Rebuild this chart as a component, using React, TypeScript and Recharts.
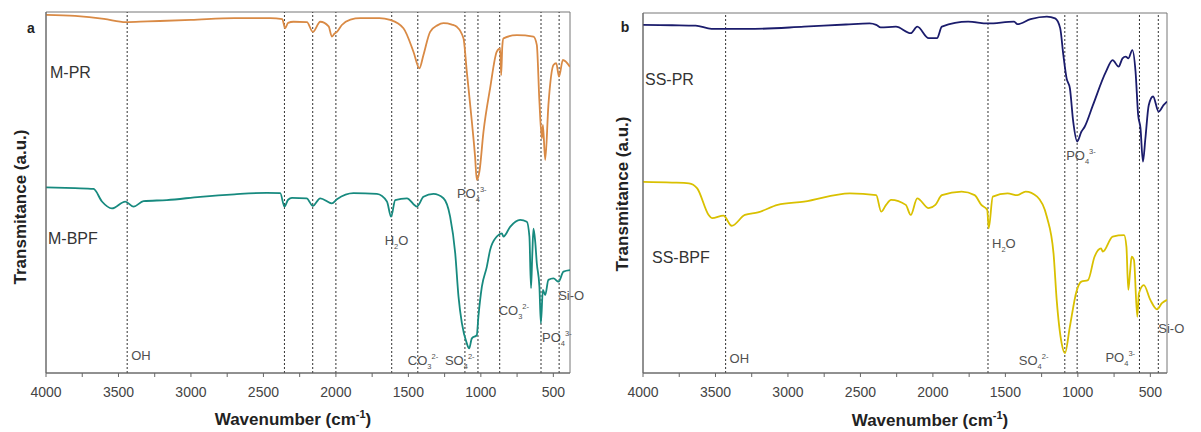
import { LineChart, Line, XAxis, YAxis, ReferenceLine, ReferenceArea } from "recharts";

// wavenumber axis
const WN_TICKS = [4000, 3750, 3500, 3250, 3000, 2750, 2500, 2250, 2000, 1750, 1500, 1250, 1000, 750, 500];
const WN_DOMAIN: [number, number] = [385, 4000];

// spectra: [wavenumber cm-1, transmittance a.u.]
const mPR: [number, number][] = [
  [4000, 99.2], [3800, 98.9], [3600, 98.1], [3450, 97.2], [3300, 97.4], [3000, 97.8], [2700, 98.3],
  [2453, 98.3], [2370, 98.0], [2350, 95.5], [2330, 97.0], [2293, 97.3], [2200, 97.2], [2159, 94.5],
  [2108, 97.3], [2050, 96.0], [2028, 93.2], [2010, 94.0], [1993, 94.5], [1959, 96.4], [1900, 97.9],
  [1832, 98.3], [1700, 98.3], [1626, 97.8], [1534, 95.5], [1465, 89.0], [1424, 84.4], [1396, 88.1],
  [1350, 94.5], [1300, 96.3], [1258, 96.9], [1200, 96.5], [1166, 95.9], [1120, 92.7], [1097, 83.5],
  [1062, 69.6], [1040, 60.0], [1028, 53.5], [1010, 55.8], [982, 66.8], [936, 78.9], [890, 89.0],
  [867, 89.9], [860, 82.5], [852, 90.5], [844, 92.7], [752, 93.6], [637, 93.2], [614, 90.9],
  [596, 75.2], [579, 65.0], [572, 68.7], [556, 59.0], [534, 74.2], [499, 85.3], [480, 85.8],
  [461, 82.1], [434, 86.7], [385, 84.8],
];

const mBPF: [number, number][] = [
  [4000, 51.4], [3800, 51.2], [3672, 51.0], [3614, 47.5], [3545, 45.6], [3453, 47.5], [3396, 46.1],
  [3327, 47.6], [3166, 47.9], [2936, 48.8], [2700, 49.5], [2476, 49.9], [2384, 49.8], [2355, 46.1],
  [2330, 48.0], [2303, 48.5], [2202, 48.4], [2159, 46.3], [2108, 48.4], [2028, 47.0], [1993, 48.1],
  [1879, 49.8], [1717, 49.6], [1648, 47.5], [1619, 43.3], [1591, 47.9], [1510, 48.4], [1441, 46.1],
  [1396, 48.8], [1327, 49.6], [1258, 48.4], [1212, 43.3], [1177, 33.2], [1154, 21.1], [1131, 13.8],
  [1097, 8.2], [1081, 6.8], [1062, 9.6], [1028, 10.5], [1017, 15.6], [993, 23.9], [959, 29.4],
  [936, 34.1], [890, 37.8], [855, 38.7], [844, 37.8], [798, 40.5], [729, 42.4], [683, 41.9],
  [665, 37.8], [654, 23.5], [645, 33.0], [637, 40.0], [625, 36.4], [614, 30.4], [596, 23.9],
  [586, 13.8], [572, 23.0], [556, 21.6], [534, 25.8], [499, 26.2], [464, 25.3], [430, 28.1], [385, 28.5],
];

const ssPR: [number, number][] = [
  [4000, 96.7], [3800, 96.6], [3637, 96.5], [3527, 95.6], [3433, 95.6], [3229, 95.6], [2889, 96.2],
  [2600, 96.8], [2437, 97.1], [2391, 96.7], [2360, 96.0], [2255, 96.2], [2153, 94.4], [2108, 96.2],
  [2029, 93.0], [1972, 93.0], [1938, 96.2], [1757, 97.6], [1621, 97.1], [1440, 97.6], [1417, 96.9],
  [1326, 98.3], [1214, 99.0], [1157, 98.5], [1122, 95.8], [1100, 88.3], [1078, 81.9], [1055, 79.1],
  [1032, 69.8], [1005, 64.3], [976, 67.0], [953, 68.4], [896, 74.4], [806, 83.7], [760, 86.9],
  [719, 85.1], [692, 87.4], [670, 87.9], [652, 87.4], [624, 89.7], [602, 83.7], [584, 71.7],
  [568, 68.0], [551, 58.7], [534, 65.2], [511, 74.4], [481, 76.8], [443, 72.6], [409, 74.4], [385, 75.4],
];

const ssBPF: [number, number][] = [
  [4000, 53.1], [3800, 52.9], [3683, 52.7], [3626, 51.3], [3547, 43.9], [3524, 43.0], [3445, 43.7],
  [3388, 40.9], [3297, 43.9], [3207, 44.6], [3071, 46.7], [2889, 47.6], [2573, 49.9], [2391, 49.4],
  [2357, 44.8], [2323, 46.7], [2289, 48.1], [2187, 46.7], [2153, 43.9], [2108, 48.5], [2029, 45.8],
  [1983, 46.7], [1938, 49.4], [1802, 50.4], [1712, 49.4], [1666, 46.7], [1625, 45.3], [1615, 40.2],
  [1587, 49.0], [1485, 49.9], [1417, 49.4], [1360, 50.4], [1281, 49.0], [1214, 43.4], [1168, 33.3],
  [1146, 20.3], [1112, 8.3], [1089, 5.5], [1055, 12.9], [1010, 22.6], [976, 25.4], [930, 25.8],
  [885, 32.3], [840, 34.6], [828, 33.7], [760, 37.9], [681, 38.3], [665, 35.1], [652, 23.1],
  [640, 28.0], [629, 32.3], [613, 31.4], [590, 15.6], [579, 22.1], [545, 24.4], [500, 20.3],
  [454, 17.7], [420, 19.4], [385, 20.3],
];

// band markers: wavenumber + label ("_x" subscript, "^x" superscript)
const A_MARKS: [number, string][] = [
  [3440, "OH"], [2355, ""], [2160, ""], [2000, ""], [1615, "H_2O"], [1435, "CO_3^2-"],
  [1110, "SO_4^2-"], [1020, "PO_4^3-"], [870, "CO_3^2-"], [585, "PO_4^3-"], [460, "Si-O"],
];
const B_MARKS: [number, string][] = [
  [3430, "OH"], [1620, "H_2O"], [1090, "SO_4^2-"], [1005, "PO_4^3-"], [575, "PO_4^3-"], [445, "Si-O"],
];
// label placement: [dx from line, centre y]
const A_PLACE: [number, number][] = [
  [4, 355], [0, 0], [0, 0], [0, 0], [-7, 240], [-10, 360], [-20, 360], [-21, 193], [-1, 310], [1, 337], [-1, 295],
];
const B_PLACE: [number, number][] = [
  [4, 358], [4, 243], [-46, 360], [-11, 155], [-34, 357], [0, 328],
];

const FONT = "'Liberation Sans', Arial, sans-serif";
const toRows = (s: [number, number][]) => s.map(([wn, t]) => ({ wn, t }));

function parseChem(s: string) {
  const parts: { t: string; k: "n" | "sub" | "sup" }[] = [];
  const re = /_([0-9]+)|\^([0-9+-]+)|([^_^]+)/g;
  let m: RegExpExecArray | null;
  while ((m = re.exec(s))) {
    if (m[1]) parts.push({ t: m[1], k: "sub" });
    else if (m[2]) parts.push({ t: m[2], k: "sup" });
    else parts.push({ t: m[3], k: "n" });
  }
  return parts;
}

function ChemText({ x, y, text }: { x: number; y: number; text: string }) {
  const offs = { n: 0, sub: 4, sup: -6 };
  let cur = 0;
  return (
    <text x={x} y={y + 4.5} fontSize={13} fill="#505050" fontFamily={FONT}>
      {parseChem(text).map((p, i) => {
        const dy = offs[p.k] - cur;
        cur = offs[p.k];
        return (
          <tspan key={i} dy={dy} fontSize={p.k === "n" ? 13 : 7.5}>
            {p.t}
          </tspan>
        );
      })}
    </text>
  );
}

function Panel({
  series,
  colors,
  marks,
  place,
  top,
}: {
  series: [number, number][][];
  colors: string[];
  marks: [number, string][];
  place: [number, number][];
  top: number;
}) {
  return (
    <LineChart
      width={590}
      height={432}
      margin={{ top, right: 20, bottom: 0, left: 8 }}
      style={{ fontFamily: FONT }}
    >
      <XAxis
        type="number"
        dataKey="wn"
        domain={WN_DOMAIN}
        reversed
        allowDataOverflow
        ticks={WN_TICKS}
        tickFormatter={(v: number) => (v % 500 === 0 ? String(v) : "")}
        height={432 - 373}
        tickSize={4}
        tickMargin={10}
        stroke="#666"
        tick={{ fontSize: 14, fill: "#444" }}
      />
      <YAxis type="number" domain={[0, 100]} width={38} tick={false} tickLine={false} stroke="#666" />
      <ReferenceArea x1={4000} x2={385} y1={0} y2={100} fill="none" stroke="#777" strokeWidth={1} />
      {marks.map(([wn, label], i) => (
        <ReferenceLine
          key={`m-${wn}`}
          x={wn}
          stroke="#333"
          strokeWidth={1}
          strokeDasharray="2 2"
          label={(p: any) => {
            if (!label) return null;
            const vx = p?.viewBox?.x ?? p?.x ?? 0;
            return <ChemText x={vx + place[i][0]} y={place[i][1]} text={label} />;
          }}
        />
      ))}
      {series.map((s, i) => (
        <Line
          key={i}
          data={toRows(s)}
          dataKey="t"
          type="monotone"
          stroke={colors[i]}
          strokeWidth={1.8}
          dot={false}
          isAnimationActive={false}
        />
      ))}
    </LineChart>
  );
}

export default function App() {
  const title = { fontSize: 17, fontWeight: 700, fill: "#222", fontFamily: FONT };
  const name = { fontSize: 16, fill: "#333", fontFamily: FONT };
  return (
    <div style={{ position: "absolute", left: 0, top: 0, width: 1201, height: 432, background: "#fff" }}>
      <div style={{ position: "absolute", left: 0, top: 0 }}>
        <Panel series={[mPR, mBPF]} colors={["#d98a45", "#178a7f"]} marks={A_MARKS} place={A_PLACE} top={12} />
      </div>
      <div style={{ position: "absolute", left: 597, top: 0 }}>
        <Panel series={[ssPR, ssBPF]} colors={["#1b1c6c", "#d9c000"]} marks={B_MARKS} place={B_PLACE} top={13} />
      </div>
      <svg
        width={1201}
        height={432}
        style={{ position: "absolute", left: 0, top: 0, pointerEvents: "none" }}
      >
        <text x={31} y={33} fontSize={14} fontWeight={700} fill="#222" textAnchor="middle" fontFamily={FONT}>a</text>
        <text x={625} y={32} fontSize={14} fontWeight={700} fill="#222" textAnchor="middle" fontFamily={FONT}>b</text>
        <text x={50} y={78} {...name}>M-PR</text>
        <text x={48} y={244} {...name}>M-BPF</text>
        <text x={645} y={85} {...name}>SS-PR</text>
        <text x={652} y={263} {...name}>SS-BPF</text>
        <text transform="translate(26 207) rotate(-90)" textAnchor="middle" {...title}>Transmitance (a.u.)</text>
        <text transform="translate(628 194) rotate(-90)" textAnchor="middle" {...title}>Transmitance (a.u.)</text>
        <text x={293} y={425} textAnchor="middle" {...title}>
          Wavenumber (cm<tspan dy={-7} fontSize={11}>-1</tspan><tspan dy={7}>)</tspan>
        </text>
        <text x={930} y={426} textAnchor="middle" {...title}>
          Wavenumber (cm<tspan dy={-7} fontSize={11}>-1</tspan><tspan dy={7}>)</tspan>
        </text>
      </svg>
    </div>
  );
}
